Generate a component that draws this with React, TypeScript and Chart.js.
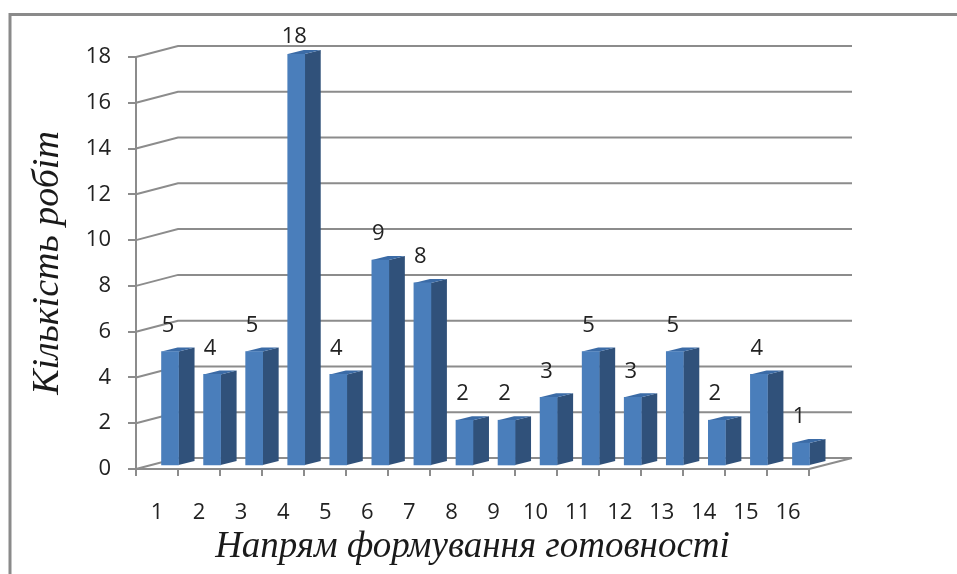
import React, { useEffect, useRef } from "react";
import { Chart, registerables } from "chart.js";

Chart.register(...registerables);

const categories = ["1", "2", "3", "4", "5", "6", "7", "8", "9", "10", "11", "12", "13", "14", "15", "16"];
const workCounts = [5, 4, 5, 18, 4, 9, 8, 2, 2, 3, 5, 3, 5, 2, 4, 1];
const yTitle = "Кількість робіт";
const xTitle = "Напрям формування готовності";

const GREY = "#8c8c8c";
const BAR_DX = 13;
const BAR_DY = -3;
const DEPTH_X = 16;
const DEPTH_Y = 4;
const WALL_X = 42;
const WALL_Y = 11;

const poly = (ctx: CanvasRenderingContext2D, pts: number[][], fill: string) => {
  ctx.beginPath();
  pts.forEach((p, i) => (i ? ctx.lineTo(p[0], p[1]) : ctx.moveTo(p[0], p[1])));
  ctx.closePath();
  ctx.fillStyle = fill;
  ctx.fill();
};

const chart3d = {
  id: "chart3d",
  beforeDraw(chart: any) {
    const { ctx } = chart;
    ctx.save();
    ctx.strokeStyle = "#8a8a8a";
    ctx.lineWidth = 3;
    ctx.beginPath();
    ctx.moveTo(10, 574);
    ctx.lineTo(10, 14.5);
    ctx.lineTo(957, 14.5);
    ctx.stroke();
    ctx.restore();
  },
  beforeDatasetsDraw(chart: any) {
    const { ctx, chartArea: a, scales } = chart;
    ctx.save();
    ctx.strokeStyle = GREY;
    ctx.lineWidth = 2;
    scales.y.ticks.forEach((t: any) => {
      const y = scales.y.getPixelForValue(t.value);
      ctx.beginPath();
      ctx.moveTo(a.left, y);
      ctx.lineTo(a.left + WALL_X, y - WALL_Y);
      ctx.lineTo(a.right + WALL_X + 1, y - WALL_Y);
      ctx.stroke();
    });
    const y0 = scales.y.getPixelForValue(0);
    ctx.beginPath();
    ctx.moveTo(a.right, y0);
    ctx.lineTo(a.right + WALL_X + 1, y0 - WALL_Y);
    ctx.stroke();
    ctx.restore();
    ctx.save();
    const meta = chart.getDatasetMeta(0);
    meta.data.forEach((b: any) => {
      const l = b.x - b.width / 2 + BAR_DX;
      const r = b.x + b.width / 2 + BAR_DX;
      const top = b.y + BAR_DY;
      const bot = b.base + BAR_DY;
      poly(ctx, [[r, top], [r + DEPTH_X, top - DEPTH_Y], [r + DEPTH_X, bot - DEPTH_Y], [r, bot]], "#30517a");
      poly(ctx, [[l, top], [l + DEPTH_X, top - DEPTH_Y], [r + DEPTH_X, top - DEPTH_Y], [r, top]], "#3b6ba6");
    });
    ctx.restore();
    ctx.save();
    ctx.translate(BAR_DX, BAR_DY);
  },
  afterDatasetsDraw(chart: any) {
    const { ctx } = chart;
    ctx.restore();
    ctx.save();
    const meta = chart.getDatasetMeta(0);
    ctx.fillStyle = "#222";
    ctx.font = '22px "Open Sans"';
    ctx.textAlign = "center";
    ctx.textBaseline = "middle";
    meta.data.forEach((b: any, i: number) => {
      ctx.fillText(String(workCounts[i]), b.x + BAR_DX - 2, Math.max(37, b.y + BAR_DY - 26));
    });
    ctx.restore();
  },
};

export default function App() {
  const ref = useRef<HTMLCanvasElement>(null);
  useEffect(() => {
    document.body.style.margin = "0";
    const chart = new Chart(ref.current!, {
      type: "bar",
      data: {
        labels: categories,
        datasets: [{ data: workCounts, backgroundColor: "#4a7ebb", barThickness: 17 }],
      },
      plugins: [chart3d],
      options: {
        responsive: false,
        animation: false,
        events: [],
        layout: { padding: { left: 25, top: 57, right: 148, bottom: 5 } },
        plugins: { legend: { display: false }, tooltip: { enabled: false } },
        scales: {
          x: {
            afterFit: (s: any) => { s.height = 100; },
            border: { color: GREY, width: 2 },
            grid: { display: true, drawOnChartArea: false, color: GREY, lineWidth: 2, tickLength: 7, offset: true },
            ticks: { color: "#222", font: { family: "Open Sans", size: 22 }, padding: 24, maxRotation: 0, autoSkip: false },
            title: {
              display: true,
              text: xTitle,
              color: "#1a1a1a",
              font: { family: "Liberation Serif", size: 37, style: "italic" },
              padding: 0,
            },
          },
          y: {
            min: 0,
            max: 18,
            afterFit: (s: any) => { s.width = 111; },
            border: { color: GREY, width: 2 },
            grid: { display: true, drawOnChartArea: false, color: GREY, lineWidth: 2, tickLength: 8 },
            ticks: { stepSize: 2, color: "#222", font: { family: "Open Sans", size: 22 }, padding: 17 },
            title: {
              display: true,
              text: yTitle,
              color: "#1a1a1a",
              font: { family: "Liberation Serif", size: 38, style: "italic" },
              padding: 0,
            },
          },
        },
      },
    } as any);
    return () => chart.destroy();
  }, []);
  return <canvas ref={ref} width={957} height={574} style={{ display: "block" }} />;
}
